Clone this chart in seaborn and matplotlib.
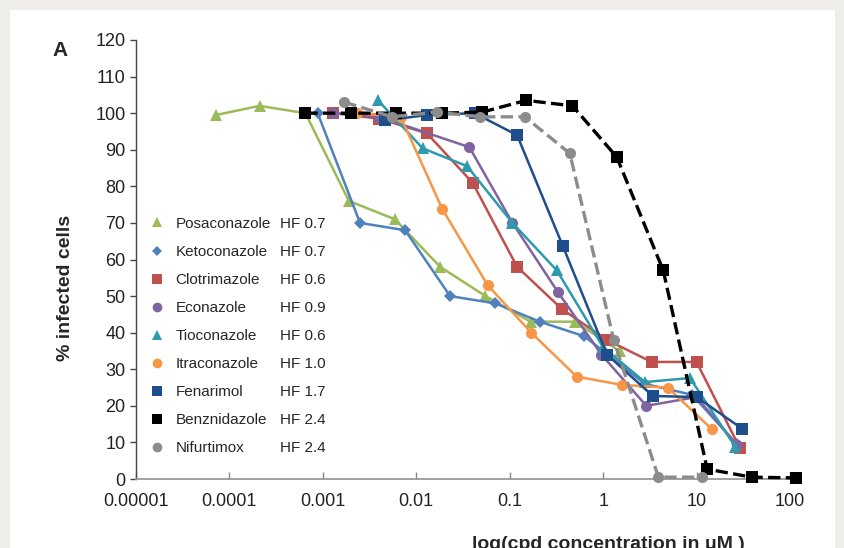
import numpy as np
import pandas as pd
import matplotlib
matplotlib.use("Agg")
import matplotlib.pyplot as plt
from matplotlib.lines import Line2D
from matplotlib.patches import Rectangle
import seaborn as sns

# ---------------------------------------------------------------------------
# DATA
# ---------------------------------------------------------------------------
compounds = ["Posaconazole", "Ketoconazole", "Clotrimazole", "Econazole", "Tioconazole",
             "Itraconazole", "Fenarimol", "Benznidazole", "Nifurtimox"]
hf_labels = ["HF 0.7", "HF 0.7", "HF 0.6", "HF 0.9", "HF 0.6",
             "HF 1.0", "HF 1.7", "HF 2.4", "HF 2.4"]

posa_x = [0.000072, 0.00021, 0.00065, 0.0019, 0.0059, 0.018, 0.055, 0.167, 0.5, 1.5]
posa_y = [99.5, 102, 100, 76, 71, 58, 50, 43, 43, 35]

keto_x = [0.00088, 0.0025, 0.0076, 0.023, 0.07, 0.21, 0.63, 1.0, 2.8, 9.0, 27]
keto_y = [100, 70, 68, 50, 48, 43, 39, 35, 26, 23, 9.5]

clot_x = [0.0013, 0.004, 0.013, 0.04, 0.12, 0.36, 1.1, 3.3, 10, 29]
clot_y = [100, 98.5, 94.5, 81, 58, 46.5, 38, 32, 32, 8.5]

econ_x = [0.0013, 0.004, 0.037, 0.107, 0.33, 0.96, 2.9, 10, 27]
econ_y = [100, 99, 90.7, 70, 51, 34, 20, 22.4, 9.3]

tioc_x = [0.0039, 0.0117, 0.035, 0.107, 0.32, 1.0, 2.8, 8.5, 26]
tioc_y = [103.5, 90.4, 85.5, 70, 57, 36, 26.5, 27.6, 8.8]

itra_x = [0.0023, 0.0068, 0.019, 0.058, 0.17, 0.52, 1.6, 4.9, 14.5]
itra_y = [100, 99, 73.8, 53, 40, 28, 25.7, 25, 13.7]

fena_x = [0.0046, 0.013, 0.042, 0.12, 0.37, 1.1, 3.4, 10, 31]
fena_y = [98, 99.5, 100, 94, 63.7, 34, 22.7, 22.4, 13.7]

benz_x = [0.00065, 0.002, 0.006, 0.019, 0.051, 0.15, 0.47, 1.4, 4.4, 13, 39, 117]
benz_y = [100, 100, 100, 100, 100.3, 103.5, 102, 88, 57, 2.7, 0.5, 0.3]

nifu_x = [0.0017, 0.0055, 0.0165, 0.048, 0.145, 0.44, 1.3, 3.9, 11.5]
nifu_y = [103, 99, 100.3, 99, 99, 89, 38, 0.5, 0.5]

xs = [posa_x, keto_x, clot_x, econ_x, tioc_x, itra_x, fena_x, benz_x, nifu_x]
ys = [posa_y, keto_y, clot_y, econ_y, tioc_y, itra_y, fena_y, benz_y, nifu_y]

tick_vals = [0.00001, 0.0001, 0.001, 0.01, 0.1, 1, 10, 100]
tick_text = ["0.00001", "0.0001", "0.001", "0.01", "0.1", "1", "10", "100"]

# ---------------------------------------------------------------------------
# STYLE
# ---------------------------------------------------------------------------
colors = ["#9BBB59", "#4F81BD", "#C0504D", "#8064A2", "#2E9AAE",
          "#F79646", "#1F4E8C", "#000000", "#8C8C8C"]
markers = ["^", "D", "s", "o", "^", "o", "s", "s", "o"]
msizes = [8.5, 6.5, 8, 8, 8.5, 8, 8, 8, 8]
styles = ["-"] * 7 + ["--", "--"]

sns.set_theme(style="white")
plt.rcParams["font.family"] = ["Liberation Sans", "DejaVu Sans"]

fig = plt.figure(figsize=(8.45, 5.48), dpi=100, facecolor="#F0EEEA")
fig.patches.append(Rectangle((10 / 845, 0), 825 / 845, 538 / 548, transform=fig.transFigure,
                             facecolor="white", edgecolor="none", zorder=-5))
ax = fig.add_axes([136 / 845, 69 / 548, 664 / 845, 439 / 548])
ax.set_zorder(2)
ax.set_facecolor("none")

for i, name in enumerate(compounds):
    df = pd.DataFrame({"conc": xs[i], "infected": ys[i]})
    sns.lineplot(data=df, x="conc", y="infected", ax=ax, color=colors[i],
                 marker=markers[i], markersize=msizes[i], markeredgewidth=0,
                 linestyle=styles[i], linewidth=2.4 if i >= 7 else 1.8,
                 dashes=False if i < 7 else (3, 2.2), zorder=2 + i, clip_on=False)

ax.set_xscale("log")
ax.set_xlim(1e-5, 128)
ax.set_ylim(0, 120)
ax.set_xticks(tick_vals)
ax.set_xticklabels(tick_text)
ax.minorticks_off()
ax.set_yticks(np.arange(0, 121, 10))
ax.tick_params(axis="both", labelsize=13, colors="#222222")
ax.tick_params(axis="y", direction="out", length=4, width=1, color="#444444", left=True)
ax.tick_params(axis="x", direction="in", length=5, width=1, color="#888888", bottom=True, pad=10)

for s in ["top", "right"]:
    ax.spines[s].set_visible(False)
ax.spines["left"].set_color("#444444")
ax.spines["bottom"].set_color("#999999")
ax.spines["left"].set_linewidth(1)
ax.spines["bottom"].set_linewidth(1.3)

ax.set_ylabel("% infected cells", fontsize=14, fontweight="bold")
ax.yaxis.set_label_coords(-0.093, 0.435)
ax.set_xlabel("log(cpd concentration in \u03bcM )", fontsize=14, fontweight="bold")
ax.xaxis.set_label_coords(0.711, -0.13)
fig.text(52 / 845, 1 - 50 / 548, "A", fontsize=15, fontweight="bold", va="center")

# legend: names with markers, then HF values as a second column
handles = [Line2D([], [], color=colors[i], marker=markers[i], markersize=msizes[i] - 1,
                  markeredgewidth=0, linestyle="none") for i in range(len(compounds))]
leg1 = ax.legend(handles, compounds, loc="upper left", bbox_to_anchor=(-0.003, 0.632),
                 frameon=False, fontsize=11, handlelength=1.0, handletextpad=0.7,
                 labelspacing=0.92, borderaxespad=0.6)
ax.add_artist(leg1)
blank = [Line2D([], [], linestyle="none") for _ in compounds]
ax.legend(blank, hf_labels, loc="upper left", bbox_to_anchor=(0.1945, 0.632),
          frameon=False, fontsize=11, handlelength=0, handletextpad=0,
          labelspacing=0.92, borderaxespad=0.6)

fig.savefig("out.png", dpi=100, facecolor=fig.get_facecolor())
